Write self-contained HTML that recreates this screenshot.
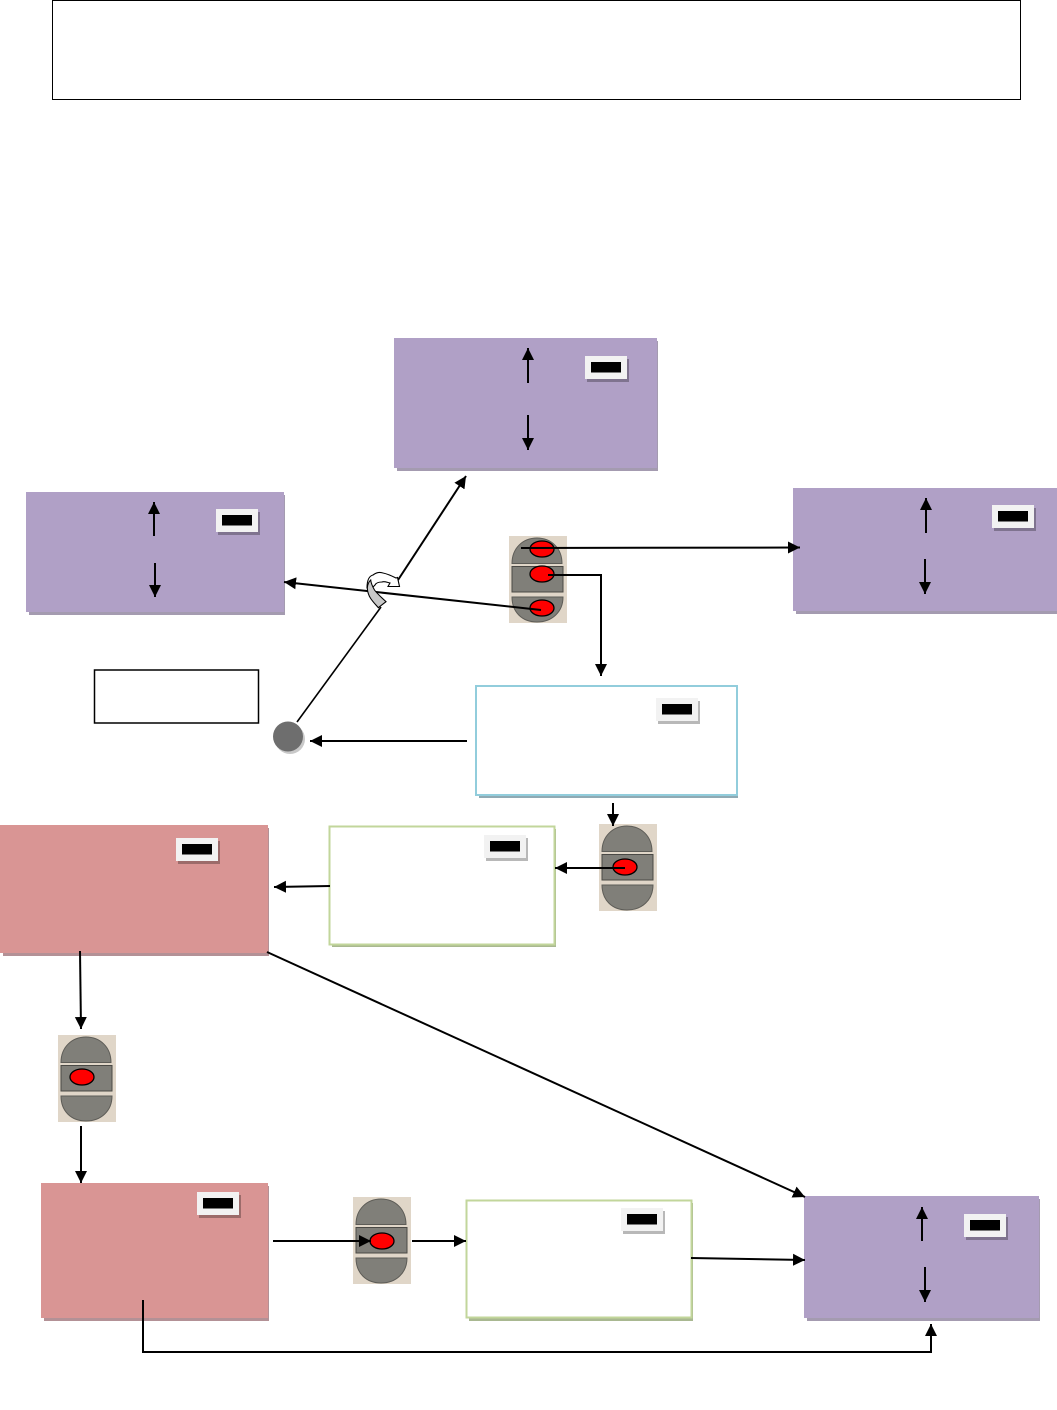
<!DOCTYPE html>
<html><head><meta charset="utf-8"><style>html,body{margin:0;padding:0;background:#fff}svg{display:block}</style></head><body>
<svg xmlns="http://www.w3.org/2000/svg" width="1057" height="1410" viewBox="0 0 1057 1410">
<defs>
<marker id="a" markerUnits="userSpaceOnUse" markerWidth="13" markerHeight="13" refX="12" refY="6.500" orient="auto"><path d="M0 0.500L12 6.500L0 12.500Z" fill="#000"/></marker>
<g id="btn">
<rect width="58" height="87" fill="#e0d6c8"/>
<path d="M3 27.500C3 12 14 2 28 2C42 2 53 12 53 27.500Z" fill="#807f79" stroke="#5d5c57"/>
<rect x="3" y="30.500" width="51" height="25.500" fill="#807f79" stroke="#4a4945"/>
<path d="M3 61H54C54 76 43 86 28 86C13 86 3 76 3 61Z" fill="#807f79" stroke="#5d5c57"/>
</g>
<g id="bd"><rect x="2" y="3" width="42" height="23" fill="#000" opacity=".28"/><rect width="42" height="23" fill="#f2f2f2"/><rect x="6" y="6" width="30" height="10.500" fill="#000"/></g>
</defs>
<rect x="52.500" y="0.500" width="968" height="99" fill="#fff" stroke="#000"/>
<rect x="397" y="341" width="261" height="130" fill="#a49bb0"/><rect x="394" y="338" width="263" height="130" fill="#b0a0c6"/>
<rect x="29" y="495" width="256" height="120" fill="#a49bb0"/><rect x="26" y="492" width="258" height="120" fill="#b0a0c6"/>
<rect x="796" y="491" width="261" height="123" fill="#a49bb0"/><rect x="793" y="488" width="264" height="123" fill="#b0a0c6"/>
<rect x="807" y="1199" width="233" height="122" fill="#a49bb0"/><rect x="804" y="1196" width="235" height="122" fill="#b0a0c6"/>
<rect x="479" y="689" width="259" height="109" fill="#8faab4"/><rect x="476" y="686" width="261" height="109" fill="#fff" stroke="#92cddc" stroke-width="2"/>
<rect x="332" y="829" width="224" height="118" fill="#a9b891"/><rect x="329.500" y="826.500" width="225" height="118" fill="#fff" stroke="#c2d69b" stroke-width="2"/>
<rect x="469" y="1203" width="224" height="118" fill="#a9b891"/><rect x="466.500" y="1200.500" width="225" height="117" fill="#fff" stroke="#c2d69b" stroke-width="2"/>
<rect x="3" y="828" width="266" height="128" fill="#b39196"/><rect x="0" y="825" width="268" height="128" fill="#d99594"/>
<rect x="44" y="1186" width="225" height="135" fill="#b39196"/><rect x="41" y="1183" width="227" height="135" fill="#d99594"/>
<use href="#bd" x="585" y="356"/><use href="#bd" x="216" y="509"/><use href="#bd" x="992" y="505"/><use href="#bd" x="964" y="1214"/>
<use href="#bd" x="656" y="698"/><use href="#bd" x="484" y="835"/><use href="#bd" x="176" y="838"/><use href="#bd" x="197" y="1192"/><use href="#bd" x="621" y="1208"/>
<rect x="94.500" y="670" width="164" height="53" fill="#fff" stroke="#000" stroke-width="1.500"/>
<circle cx="290" cy="739" r="15" fill="#c9c9c9"/><circle cx="288" cy="736.500" r="15" fill="#6e6e6e"/>
<use href="#btn" x="509" y="536"/><use href="#btn" x="599" y="824"/><use href="#btn" x="58" y="1035"/><use href="#btn" x="353" y="1197"/>
<g fill="#f00" stroke="#000" stroke-width="1.300">
<ellipse cx="542" cy="549" rx="12" ry="8"/><ellipse cx="542" cy="574" rx="12" ry="8"/><ellipse cx="542" cy="608" rx="12" ry="8"/>
<ellipse cx="625" cy="867" rx="12" ry="8"/><ellipse cx="82" cy="1077" rx="12" ry="8"/><ellipse cx="382" cy="1241" rx="12" ry="8"/>
</g>
<g fill="none" stroke="#000" stroke-width="2" marker-end="url(#a)">
<path d="M528 383V348"/><path d="M528 415V450"/>
<path d="M154 536V502"/><path d="M155 563V597"/>
<path d="M926 533V498"/><path d="M925 559V594"/>
<path d="M922 1241V1207"/><path d="M925 1267V1302"/>
<path d="M398 580L466 476"/>
<path d="M541 610L284 582"/>
<path d="M521 548L800 547.500"/>
<path d="M548 575H601V676"/>
<path d="M467 741H310"/>
<path d="M613 803V826"/>
<path d="M625 868H555"/>
<path d="M330 886L274 887"/>
<path d="M80 951L81 1029"/>
<path d="M81 1126V1183"/>
<path d="M273 1241H371"/>
<path d="M412 1241H466"/>
<path d="M691 1258L805 1260"/>
<path d="M267 952L805 1197"/>
<path d="M143 1300V1352H931V1324"/>
</g>
<path d="M297 722L381 607" fill="none" stroke="#000" stroke-width="1.600"/>
<path d="M367 588C367 580 369 576 373 575C377 572 380 572 383 573C388 574 392 576 396 578L397.500 577.500L399.500 586.500L388 586.500L390 583C386 582 384 581 382 582C378 582 376 583 375 585L370 590Z" fill="#fff" stroke="#000" stroke-width="1.100"/>
<path d="M367.300 588C367.500 592 369 596 370.700 598.500C373 602 376 605 378.300 607.700L386 601.700C381 597 376.500 593 374.500 590C372.500 586.500 371 583 370.700 580C368.500 582 367.500 585 367.300 588Z" fill="#c8c8c8" stroke="#000" stroke-width="1.100"/>
</svg>
</body></html>
